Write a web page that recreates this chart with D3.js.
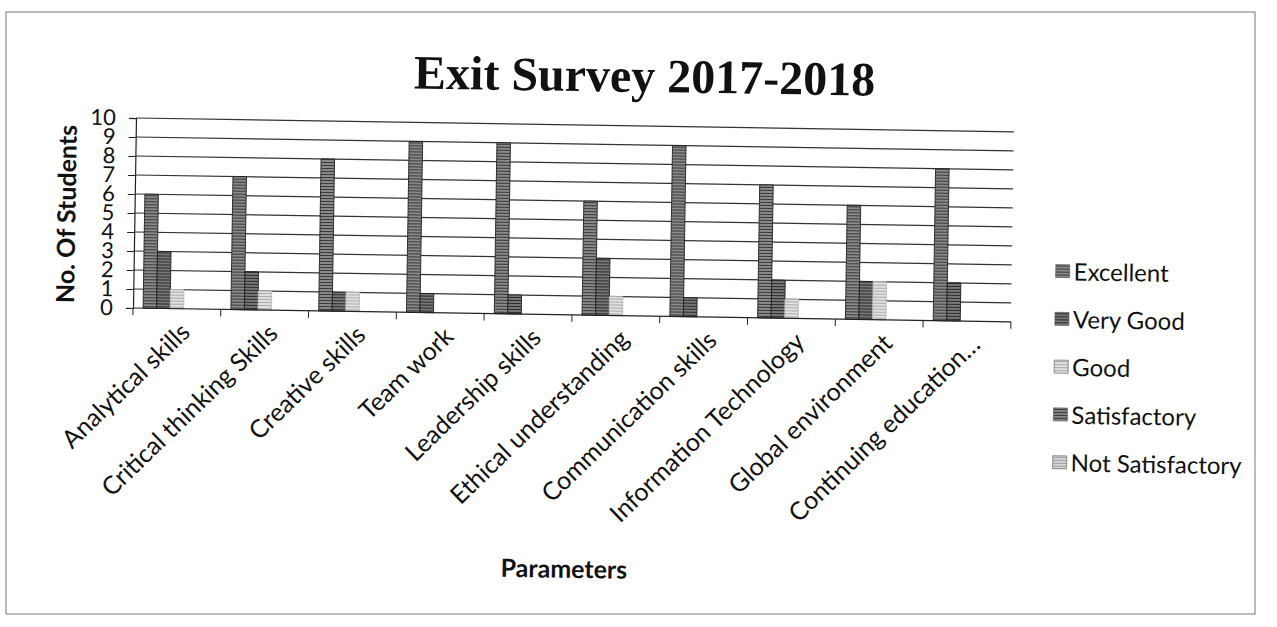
<!DOCTYPE html>
<html>
<head>
<meta charset="utf-8">
<script src="https://cdn.jsdelivr.net/npm/d3@7"></script>
<style>
  body { margin: 0; background: #fff; }
  svg { display: block; }
  text { font-family: Lato, "Open Sans", sans-serif; fill: #111; }
</style>
</head>
<body>
<svg id="chart" width="1277" height="627"></svg>
<script>
// data
const categories = [
  "Analytical skills", "Critical thinking Skills", "Creative skills", "Team work",
  "Leadership skills", "Ethical understanding", "Communication skills",
  "Information Technology", "Global environment", "Continuing education\u2026"
];
const seriesNames = ["Excellent", "Very Good", "Good", "Satisfactory", "Not Satisfactory"];
const excellent       = [6, 7, 8, 9, 9, 6, 9, 7, 6, 8];
const veryGood        = [3, 2, 1, 1, 1, 3, 1, 2, 2, 2];
const good            = [1, 1, 1, 0, 0, 1, 0, 1, 2, 0];
const satisfactory    = [0, 0, 0, 0, 0, 0, 0, 0, 0, 0];
const notSatisfactory = [0, 0, 0, 0, 0, 0, 0, 0, 0, 0];
const yTicks = [0, 1, 2, 3, 4, 5, 6, 7, 8, 9, 10];

const seriesValues = [excellent, veryGood, good, satisfactory, notSatisfactory];

const svg = d3.select("#chart");

// grey "scanned" fills, one pattern per series
const fills = [
  { id: "p0", base: "#8a8a8a", line: "#383838" },
  { id: "p1", base: "#787878", line: "#2a2a2a" },
  { id: "p2", base: "#e2e2e2", line: "#a8a8a8" },
  { id: "p3", base: "#828282", line: "#3a3a3a" },
  { id: "p4", base: "#d6d6d6", line: "#9a9a9a" }
];
const defs = svg.append("defs");
fills.forEach(f => {
  const p = defs.append("pattern").attr("id", f.id)
    .attr("patternUnits", "userSpaceOnUse").attr("width", 4).attr("height", 3);
  p.append("rect").attr("width", 4).attr("height", 3).attr("fill", f.base);
  p.append("rect").attr("width", 4).attr("height", 1).attr("fill", f.line);
});

// outer frame
svg.append("rect")
  .attr("x", 6).attr("y", 12).attr("width", 1249).attr("height", 602)
  .attr("fill", "none").attr("stroke", "#777").attr("stroke-width", 1);

// the scan is slightly tilted, so the whole chart is too
const g = svg.append("g").attr("transform", "rotate(0.9, 133, 308)");

const x0 = d3.scaleBand().domain(categories).range([133, 1011]).padding(0);
const x1 = d3.scaleBand().domain(seriesNames)
  .range([x0.bandwidth() * 0.115, x0.bandwidth() * 0.885]).padding(0);
const y = d3.scaleLinear().domain([0, 10]).range([308, 118]);

// title
g.append("text")
  .attr("x", 641).attr("y", 84)
  .attr("text-anchor", "middle")
  .style("font-family", "'Liberation Serif', 'DejaVu Serif', serif")
  .style("font-weight", "bold").style("font-size", "48px")
  .text("Exit Survey 2017-2018");

// gridlines
g.append("g").selectAll("line")
  .data(yTicks.filter(d => d > 0))
  .join("line")
  .attr("x1", 133).attr("x2", 1011)
  .attr("y1", d => y(d)).attr("y2", d => y(d))
  .attr("stroke", "#333").attr("stroke-width", 1.2);

// y axis
const yAxis = g.append("g").attr("transform", "translate(133,0)")
  .call(d3.axisLeft(y).tickValues(yTicks).tickSize(7).tickPadding(13));
yAxis.select(".domain").attr("stroke", "#222").attr("stroke-width", 1.2);
yAxis.selectAll(".tick line").attr("stroke", "#222");
yAxis.selectAll(".tick text")
  .style("font-size", "22px").style("font-family", "Lato, 'Open Sans', sans-serif")
  .attr("fill", "#111");

// bars
const groups = g.append("g").selectAll("g")
  .data(categories)
  .join("g")
  .attr("transform", d => `translate(${x0(d)},0)`);

groups.selectAll("rect")
  .data((c, i) => seriesNames.map((s, k) => ({ s, k, v: seriesValues[k][i] })))
  .join("rect")
  .attr("x", d => x1(d.s))
  .attr("width", x1.bandwidth())
  .attr("y", d => y(d.v))
  .attr("height", d => y(0) - y(d.v))
  .attr("fill", d => `url(#${fills[d.k].id})`)
  .attr("stroke", d => d.v > 0 ? (d.k === 2 || d.k === 4 ? "#bbb" : "#222") : "none")
  .attr("stroke-width", 0.9);

// x axis
const xAxis = g.append("g").attr("transform", "translate(0,308)");
xAxis.append("line").attr("x1", 133).attr("x2", 1011)
  .attr("stroke", "#222").attr("stroke-width", 1.2);
xAxis.selectAll(".xtick")
  .data(categories.map(c => x0(c)).concat([x0.range()[1]]))
  .join("line")
  .attr("class", "xtick")
  .attr("x1", d => d).attr("x2", d => d)
  .attr("y1", 0).attr("y2", 7)
  .attr("stroke", "#222");

xAxis.selectAll(".xlab")
  .data(categories)
  .join("text")
  .attr("class", "xlab")
  .attr("text-anchor", "end")
  .attr("transform", d => `translate(${x0(d) + x0.bandwidth() / 2 + 15},25) rotate(-45)`)
  .style("font-size", "25px")
  .text(d => d);

// axis titles
g.append("text")
  .attr("transform", "translate(74,215) rotate(-90)")
  .attr("text-anchor", "middle")
  .style("font-weight", "bold").style("font-size", "25px")
  .text("No. Of Students");

g.append("text")
  .attr("x", 568).attr("y", 571)
  .attr("text-anchor", "middle")
  .style("font-weight", "bold").style("font-size", "25px")
  .text("Parameters");

// legend
const legend = g.append("g").attr("transform", "translate(1055,257)");
const items = legend.selectAll("g")
  .data(seriesNames)
  .join("g")
  .attr("transform", (d, i) => `translate(0,${i * 47.8})`);
items.append("rect")
  .attr("x", 0).attr("y", -7).attr("width", 14).attr("height", 13)
  .attr("fill", (d, i) => `url(#${fills[i].id})`)
  .attr("stroke", "#555").attr("stroke-width", 0.6);
items.append("text")
  .attr("x", 18).attr("y", 0).attr("dy", "0.36em")
  .style("font-size", "24px")
  .text(d => d);
</script>
</body>
</html>
